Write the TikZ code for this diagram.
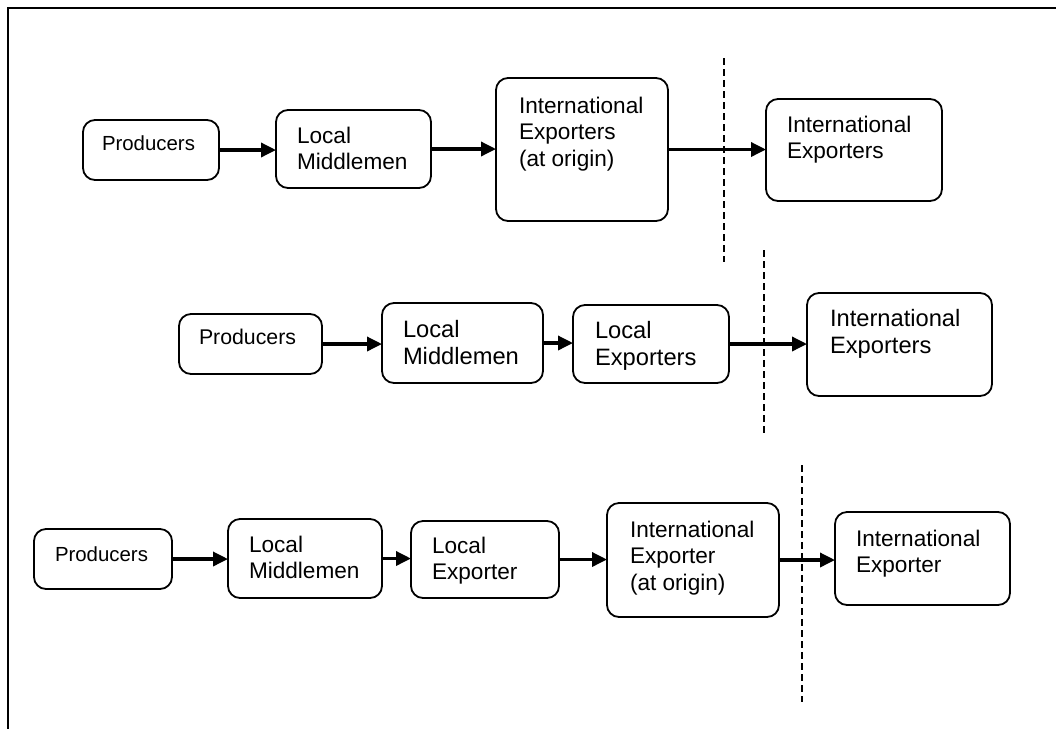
\documentclass[tikz,border=0pt]{standalone}
\usepackage{fontspec}
\setmainfont{Liberation Sans}
\usetikzlibrary{arrows.meta}
\newcommand\mltext[1]{\begin{tabular}[t]{@{}l@{}}#1\end{tabular}}
\begin{document}
\begin{tikzpicture}[x=1pt,y=-1pt,
  frameline/.style={line width=2pt},
  boxst/.style={draw, rounded corners=12pt, line width=1.8pt, inner sep=0pt, outer sep=0pt},
  arr/.style={line width=3.4pt, -{Triangle[length=15pt,width=14pt]}},
  divider/.style={line width=2.8pt, dash pattern=on 6.5pt off 4.5pt},
  txt/.style={anchor=base west, inner sep=0pt, outer sep=0pt},
  bigA/.style={txt, font=\fontsize{22.6}{26.5}\selectfont},
  bigB/.style={txt, font=\fontsize{23.7}{27}\selectfont},
  smallA/.style={txt, font=\fontsize{20.4}{24}\selectfont},
  smallB/.style={txt, font=\fontsize{21.3}{25}\selectfont}]
\useasboundingbox (0,0) rectangle (1056,729);
\draw[frameline] (1056,8) -- (8,8) -- (8,729);

% Row 1
\node[boxst, minimum width=136pt, minimum height=60pt] (P1) at (151,150) {};
\node[boxst, minimum width=155pt, minimum height=78pt] (LM1) at (353.5,149) {};
\node[boxst, minimum width=172pt, minimum height=143pt] (IE1) at (582,149.5) {};
\node[boxst, minimum width=176pt, minimum height=102pt] (IER1) at (854,150) {};
\node[smallA] (tP1) at (102,150) {Producers};
\node[bigA] (tLM1) at (297,143) {\mltext{Local\\Middlemen}};
\node[bigA] (tIE1) at (519,113) {\mltext{International\\Exporters\\(at origin)}};
\node[bigA] (tIER1) at (787,132) {\mltext{International\\Exporters}};
\draw[divider] (724,58) -- (724,262);
\draw[arr] (P1.east) -- (P1.east -| LM1.west);
\draw[arr] (LM1.east) -- (LM1.east -| IE1.west);
\draw[arr] (IE1.east) -- (IE1.east -| IER1.west);

% Row 2
\node[boxst, minimum width=143pt, minimum height=60pt] (P2) at (250.5,344) {};
\node[boxst, minimum width=161pt, minimum height=80pt] (LM2) at (462.5,343) {};
\node[boxst, minimum width=156pt, minimum height=78pt] (LE2) at (651,344) {};
\node[boxst, minimum width=185pt, minimum height=103pt] (IER2) at (899.5,344.5) {};
\node[smallB] (tP2) at (199,344) {Producers};
\node[bigB] (tLM2) at (403,337) {\mltext{Local\\Middlemen}};
\node[bigB] (tLE2) at (595,338) {\mltext{Local\\Exporters}};
\node[bigB] (tIER2) at (830,326) {\mltext{International\\Exporters}};
\draw[divider] (764,250) -- (764,437);
\draw[arr] (P2.east) -- (P2.east -| LM2.west);
\draw[arr] (LM2.east) -- (LM2.east -| LE2.west);
\draw[arr] (LE2.east) -- (LE2.east -| IER2.west);

% Row 3
\node[boxst, minimum width=138pt, minimum height=60pt] (P3) at (103,559) {};
\node[boxst, minimum width=154pt, minimum height=79pt] (LM3) at (305,558.5) {};
\node[boxst, minimum width=148pt, minimum height=77pt] (LE3) at (485,559.5) {};
\node[boxst, minimum width=172pt, minimum height=114pt] (IE3) at (693,560) {};
\node[boxst, minimum width=175pt, minimum height=93pt] (IER3) at (922.5,558.5) {};
\node[smallA] (tP3) at (55,561) {Producers};
\node[bigA] (tLM3) at (249,552) {\mltext{Local\\Middlemen}};
\node[bigA] (tLE3) at (432,553) {\mltext{Local\\Exporter}};
\node[bigA] (tIE3) at (630,537) {\mltext{International\\Exporter\\(at origin)}};
\node[bigA] (tIER3) at (856,546) {\mltext{International\\Exporter}};
\draw[divider] (802,465) -- (802,702);
\draw[arr] (P3.east) -- (P3.east -| LM3.west);
\draw[arr] (LM3.east) -- (LM3.east -| LE3.west);
\draw[arr] (LE3.east) -- (LE3.east -| IE3.west);
\draw[arr] (IE3.east) -- (IE3.east -| IER3.west);
\end{tikzpicture}
\end{document}
